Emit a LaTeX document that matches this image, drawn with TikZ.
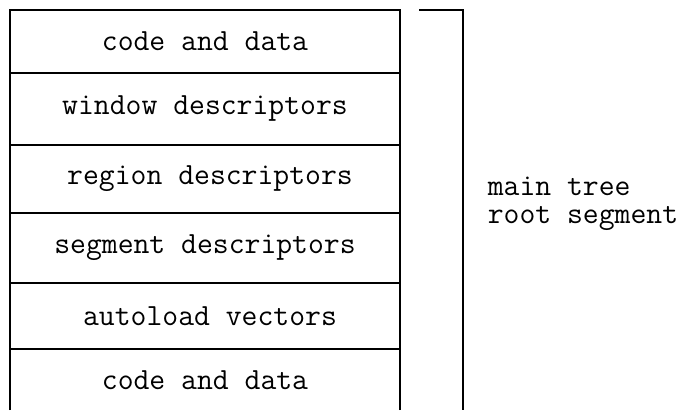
\documentclass[tikz,border=0pt]{standalone}
\usepackage{fontspec}
\begin{document}
\begin{tikzpicture}[x=1pt,y=-1pt,
  line width=1.6pt,
  lbl/.style={font=\ttfamily\fontsize{30.8}{28.5}\selectfont, inner sep=0pt},
  cell/.style={draw, minimum width=390pt, inner sep=0pt, outer sep=0pt}]
  \useasboundingbox (0,0) rectangle (685,410);
  % memory layout stack, top to bottom
  \node[cell, minimum height=63pt] (r1) at (205,41.5) {};
  \node[cell, minimum height=72pt] (r2) at (205,109) {};
  \node[cell, minimum height=68pt] (r3) at (205,179) {};
  \node[cell, minimum height=70pt] (r4) at (205,248) {};
  \node[cell, minimum height=66pt] (r5) at (205,316) {};
  % last cell is open at the bottom
  \coordinate (bl) at (10,410);
  \coordinate (br) at (400,410);
  \draw (bl) -- (r5.south west) (br) -- (r5.south east);
  \node[lbl] (t1) at (r1) {code and data};
  \node[lbl] (t2) at (r2) {window descriptors};
  \node[lbl, xshift=5pt] (t3) at (r3) {region descriptors};
  \node[lbl] (t4) at (r4) {segment descriptors};
  \node[lbl, xshift=5pt] (t5) at (r5) {autoload vectors};
  \node[lbl] (t6) at (205,380) {code and data};
  % bracket grouping the root segment
  \coordinate (b0) at (419,10);
  \coordinate (b1) at (463,10);
  \coordinate (b2) at (463,410);
  \draw (b0) -- (b1) -- (b2);
  \node[lbl, anchor=west, align=left] (seg) at (487,204) {main tree\\root segment};
\end{tikzpicture}
\end{document}
